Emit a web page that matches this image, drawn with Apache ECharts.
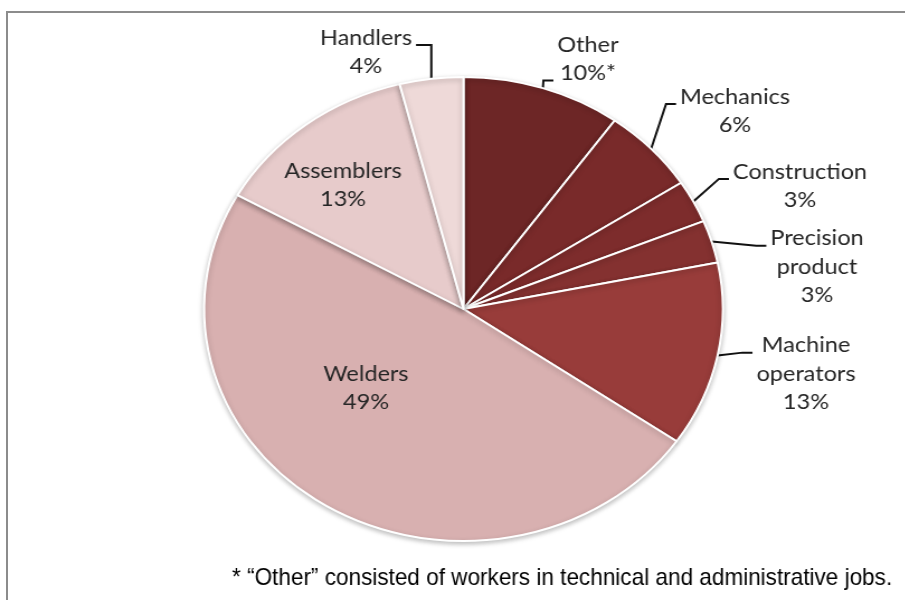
<!DOCTYPE html>
<html>
<head>
<meta charset="utf-8">
<script src="https://cdn.jsdelivr.net/npm/echarts@6/dist/echarts.min.js"></script>
<style>
html, body { margin: 0; padding: 0; background: #fff; }
#wrap { position: absolute; left: 0; top: 0; width: 905px; height: 600px; overflow: hidden; }
#frame { position: absolute; left: 6px; top: 11px; width: 1000px; height: 700px; border-left: 2px solid #8c8c8c; border-top: 2px solid #8c8c8c; }
#main { position: absolute; left: 0; top: 0; height: 600px; transform-origin: 0 0; }
</style>
</head>
<body>
<div id="wrap"><div id="frame"></div><div id="main"></div></div>
<script>
var categories = ['Other', 'Mechanics', 'Construction', 'Precision\nproduct', 'Machine\noperators', 'Welders', 'Assemblers', 'Handlers'];
var shares = [10, 6, 3, 3, 13, 49, 13, 4];
var sliceColors = ['#6d2626', '#792a2a', '#7d2c2c', '#843130', '#983c3a', '#d8b0b0', '#e7cbcb', '#eed9d8'];
var insideLabels = ['Welders', 'Assemblers'];
var footnote = '* \u201cOther\u201d consisted of workers in technical and administrative jobs.';

// the source picture is stretched sideways, so draw narrower and scale the canvas back out
var SX = 1.118;
var W = 905 / SX;
var LH = 28.5;
var pieCenter = [463.5 / SX, 309];

// label block centres, page pixels
var labelSpots = {
  'Other': [588, 59],
  'Mechanics': [735, 111],
  'Construction': [800, 186],
  'Precision\nproduct': [817, 267],
  'Machine\noperators': [806, 374],
  'Welders': [366, 388],
  'Assemblers': [343, 185],
  'Handlers': [366, 52]
};
// which text line the leader meets
var anchorLine = { 'Other': 1 };

var el = document.getElementById('main');
el.style.width = W + 'px';
el.style.transform = 'scaleX(' + SX + ')';

var option = {
  animation: false,
  graphic: [{
    type: 'text',
    x: 232 / SX,
    y: 578,
    scaleX: 0.84,
    silent: true,
    style: {
      text: footnote,
      x: 0,
      y: 0,
      verticalAlign: 'middle',
      font: "24px 'Liberation Sans', Arial, sans-serif",
      fill: '#000'
    }
  }],
  series: [{
    type: 'pie',
    center: pieCenter,
    radius: 232,
    startAngle: 90,
    clockwise: true,
    avoidLabelOverlap: false,
    itemStyle: {
      borderColor: '#fff',
      borderWidth: 2,
      shadowBlur: 5,
      shadowColor: 'rgba(0,0,0,0.25)',
      shadowOffsetY: 2
    },
    label: {
      fontFamily: 'Lato',
      fontSize: 21,
      lineHeight: LH,
      color: '#262626',
      formatter: function (p) {
        return p.name + '\n' + p.value + '%' + (p.name === 'Other' ? '*' : '');
      }
    },
    labelLine: { lineStyle: { color: '#111', width: 2 } },
    emphasis: { disabled: true },
    labelLayout: function (p) {
      var name = categories[p.dataIndex];
      var spot = labelSpots[name];
      var cx = spot[0] / SX, cy = spot[1];
      var w = p.labelRect.width, h = p.labelRect.height;
      var out = { x: cx, y: cy, align: 'center', verticalAlign: 'middle' };
      if (insideLabels.indexOf(name) < 0 && p.labelLinePoints) {
        var start = p.labelLinePoints[0];
        var ay = cy - h / 2 + LH * ((anchorLine[name] || 0) + 0.75);
        var onLeft = cx < pieCenter[0];
        var ex = onLeft ? cx + w / 2 + 4 / SX : cx - w / 2 - 4 / SX;
        var kx = onLeft ? Math.max(ex + 10 / SX, start[0]) : ex - 10 / SX;
        out.labelLinePoints = [start, [kx, ay], [ex, ay]];
      }
      return out;
    },
    data: categories.map(function (c, i) {
      var inside = insideLabels.indexOf(c) >= 0;
      return {
        name: c,
        value: shares[i],
        itemStyle: { color: sliceColors[i] },
        label: { position: inside ? 'inside' : 'outside' },
        labelLine: { show: !inside }
      };
    })
  }]
};

var chart = echarts.init(el);
chart.setOption(option);
</script>
</body>
</html>
